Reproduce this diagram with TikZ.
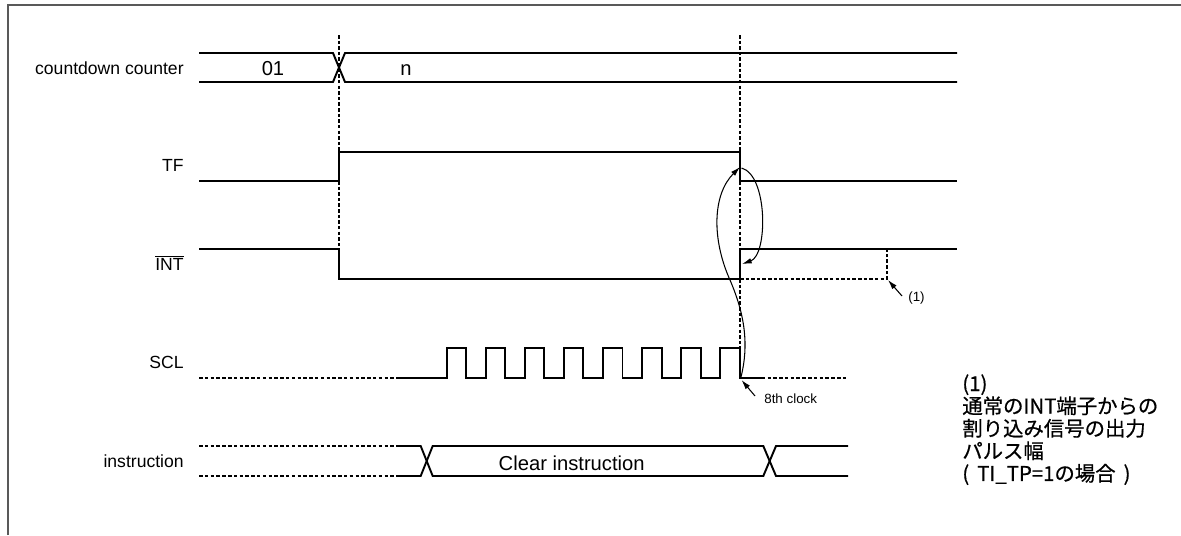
\documentclass[tikz,border=0pt]{standalone}
\usepackage{fontspec}
\setmainfont{Liberation Sans}
\newfontfamily\jpfont[FakeBold=0.6]{Noto Sans CJK JP}
\usetikzlibrary{arrows.meta}
\begin{document}
\begin{tikzpicture}[x=0.02cm,y=-0.02cm,
  sig/.style={line width=1.1pt, line join=miter},
  dsig/.style={line width=1.1pt, dash pattern=on 2pt off 1.3pt},
  guide/.style={line width=1pt, dash pattern=on 2pt off 1.2pt},
  note/.style={line width=0.6pt, -{Latex[length=5.5pt,width=3.2pt]}},
  lbl/.style={font=\fontsize{10}{12}\selectfont, anchor=base east, inner sep=0},
  val/.style={font=\fontsize{11.5}{13}\selectfont, anchor=base, inner sep=0},
  small/.style={font=\fontsize{7.6}{9}\selectfont, anchor=base west, inner sep=0},
  frame/.style={line width=1pt, draw=black!65}]
\useasboundingbox (0,0) rectangle (1181,535);
\draw[frame] (8,535) -- (8,5) -- (1181,5);

% signal labels
\node[lbl] (lcnt) at (184,74) {countdown counter};
\node[lbl] (ltf) at (184,171.7) {TF};
\node[lbl] (lint) at (184,270.7) {$\overline{\mbox{INT}}$};
\node[lbl] (lscl) at (184,368.3) {SCL};
\node[lbl] (lins) at (184,467) {instruction};

% guide lines
\draw[guide] (339,35) -- (339,152);
\draw[guide] (339,181) -- (339,249);
\draw[guide] (740,35) -- (740,152);
\draw[guide] (740,181) -- (740,249);
\draw[guide] (740,279) -- (740,348);

% countdown counter
\draw[sig] (199,53) -- (333,53) -- (345,82) -- (957,82);
\draw[sig] (199,82) -- (333,82) -- (345,53) -- (957,53);
\node[val] (v01) at (273,75.7) {01};
\node[val] (vn) at (406,75.7) {n};

% TF
\draw[sig] (199,181) -- (339,181) -- (339,152) -- (740,152) -- (740,181) -- (957,181);

% INT
\draw[sig] (199,249) -- (339,249) -- (339,279) -- (740,279) -- (740,249) -- (957,249);
\draw[guide] (740,279) -- (887,279) -- (887,249);

% SCL
\draw[dsig] (199,378) -- (398,378);
\draw[sig] (398,378) \foreach \k in {0,...,7} { -- ({446.7+39.1*\k},378) -- ({446.7+39.1*\k},348) -- ({466.1+39.1*\k},348) -- ({466.1+39.1*\k},378) } -- (761.7,378);
\draw[dsig] (761.7,378) -- (848,378);

% instruction
\draw[dsig] (199,446) -- (398,446);
\draw[dsig] (199,476) -- (398,476);
\draw[sig] (398,446) -- (420.7,446) -- (432.7,476) -- (763.3,476) -- (776,446) -- (848,446);
\draw[sig] (398,476) -- (420.7,476) -- (432.7,446) -- (763.3,446) -- (776,476) -- (848,476);
\node[val] (vci) at (571.7,470.7) {Clear instruction};

% causal arrows
\coordinate (tffall) at (740,167);
\coordinate (tfstart) at (741.5,168);
\coordinate (clk8) at (741,377);
\coordinate (intrise) at (742,264);
\draw[note] (clk8) .. controls (749,345) and (745,315) .. (730,280) .. controls (712,240) and (712,195) .. (tffall);
\draw[note] (tfstart) .. controls (768,175) and (768,255) .. (intrise);

% 8th clock
\node[small] (l8) at (764,403.3) {8th clock};
\coordinate (l8tail) at (755,396);
\coordinate (l8tip) at (741.5,380);
\draw[note] (l8tail) -- (l8tip);

% (1) marker
\node[small] (l1) at (908,301.7) {(1)};
\coordinate (l1tail) at (902,296);
\coordinate (l1tip) at (888,280);
\draw[note] (l1tail) -- (l1tip);

% note text
\node[font={\jpfont\fontsize{11.6}{12.8}\selectfont}, align=left, anchor=north west, inner sep=0] (jnote) at (962,374)
  {(1)\\通常のINT端子からの\\割り込み信号の出力\\パルス幅\\(\, TI\_TP=1の場合\, )};
\end{tikzpicture}
\end{document}
